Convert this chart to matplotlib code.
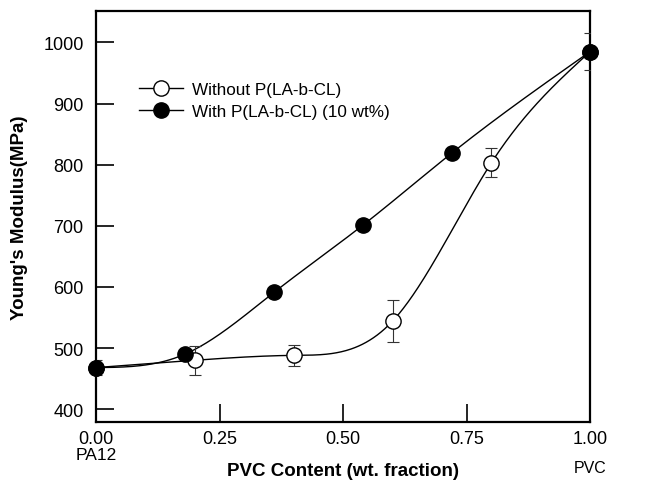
import numpy as np
import matplotlib
matplotlib.use("Agg")
import matplotlib.pyplot as plt

plt.rcParams['font.family'] = ['Liberation Sans', 'DejaVu Sans']

# PVC content (wt. fraction) and Young's modulus (MPa)
x_without = [0.0, 0.2, 0.4, 0.6, 0.8, 1.0]
y_without = [468, 480, 488, 544, 803, 985]
err_without = [12, 24, 17, 34, 24, 30]

x_with = [0.0, 0.18, 0.36, 0.54, 0.72, 1.0]
y_with = [468, 490, 591, 701, 819, 985]

x_ticks = [0.00, 0.25, 0.50, 0.75, 1.00]
y_ticks = [400, 500, 600, 700, 800, 900, 1000]


def spline(x, y, xs):
    """Natural cubic spline through the points."""
    x = np.asarray(x, float)
    y = np.asarray(y, float)
    n = len(x)
    h = np.diff(x)
    A = np.zeros((n, n))
    b = np.zeros(n)
    A[0, 0] = A[-1, -1] = 1
    for i in range(1, n - 1):
        A[i, i - 1] = h[i - 1]
        A[i, i] = 2 * (h[i - 1] + h[i])
        A[i, i + 1] = h[i]
        b[i] = 6 * ((y[i + 1] - y[i]) / h[i] - (y[i] - y[i - 1]) / h[i - 1])
    M = np.linalg.solve(A, b)
    k = np.clip(np.searchsorted(x, xs, side='right') - 1, 0, n - 2)
    t0 = x[k + 1] - xs
    t1 = xs - x[k]
    hk = h[k]
    return (M[k] * t0**3 / (6 * hk) + M[k + 1] * t1**3 / (6 * hk)
            + (y[k] / hk - M[k] * hk / 6) * t0
            + (y[k + 1] / hk - M[k + 1] * hk / 6) * t1)


fig = plt.figure(figsize=(6.45, 4.89), dpi=100)
ax = fig.add_axes([0.149, 0.135, 0.766, 0.840])

xs = np.linspace(0, 1, 400)
ax.plot(xs, spline(x_without, y_without, xs), color='black', lw=1.0, zorder=2)
ax.plot(xs, spline(x_with, y_with, xs), color='black', lw=1.0, zorder=2)

ax.errorbar(x_without, y_without, yerr=err_without, fmt='none', ecolor='#333333',
            elinewidth=0.8, capsize=4, capthick=0.8, zorder=3)
ax.plot(x_without, y_without, 'o', ms=11, mfc='white', mec='black', mew=1.0,
        zorder=4, clip_on=False)
ax.plot(x_with, y_with, 'o', ms=11, mfc='black', mec='black', zorder=5, clip_on=False)

# legend entries
h1, = ax.plot([], [], '-o', color='black', lw=1.0, ms=11, mfc='white', mec='black')
h2, = ax.plot([], [], '-o', color='black', lw=1.0, ms=11, mfc='black', mec='black')
ax.legend([h1, h2], ['Without P(LA-b-CL)', 'With P(LA-b-CL) (10 wt%)'],
          loc='upper left', bbox_to_anchor=(0.055, 0.865), frameon=False,
          fontsize=12.3, handlelength=2.6, handletextpad=0.5, labelspacing=0.42)

ax.set_xlim(0, 1)
ax.set_ylim(379, 1051)
ax.set_xticks(x_ticks)
ax.set_xticklabels(['%.2f' % v for v in x_ticks])
ax.set_yticks(y_ticks)
ax.tick_params(direction='in', length=13, width=1.2, labelsize=13,
               top=False, right=False)
ax.tick_params(axis='y', pad=9)
ax.tick_params(axis='x', pad=6)
for s in ax.spines.values():
    s.set_linewidth(1.6)

ax.set_ylabel("Young's Modulus(MPa)", fontsize=13.5, fontweight='bold', va='center')
ax.yaxis.set_label_coords(-0.155, 0.5)
ax.set_xlabel("PVC Content (wt. fraction)", fontsize=13.5, fontweight='bold', va='center')
ax.xaxis.set_label_coords(0.5, -0.117)

ax.text(0.0, -0.08, 'PA12', transform=ax.transAxes, ha='center', va='center', fontsize=12.5)
ax.text(1.0, -0.11, 'PVC', transform=ax.transAxes, ha='center', va='center', fontsize=11.5)

fig.savefig('out.png', dpi=100)
